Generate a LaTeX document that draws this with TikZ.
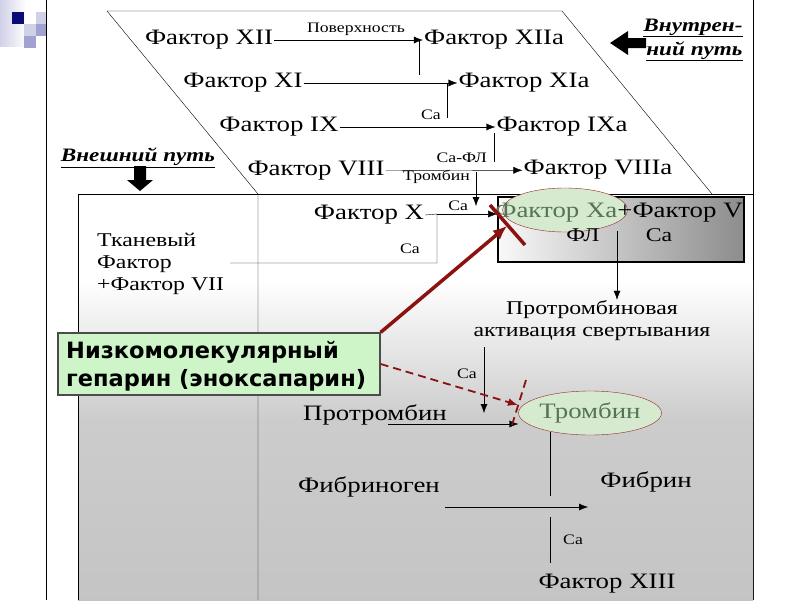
\documentclass[tikz,border=0pt]{standalone}
\usepackage{fontspec}
\setmainfont{Liberation Serif}[FakeStretch=1.22]
\newfontfamily\hepfont{DejaVu Sans}
\usetikzlibrary{positioning,shapes.geometric,arrows.meta}
\definecolor{darkred}{RGB}{140,18,18}
\definecolor{ellfill}{RGB}{214,234,208}
\definecolor{ellline}{RGB}{150,40,40}
\definecolor{ellfont}{RGB}{85,115,85}
\definecolor{hepfill}{RGB}{206,245,200}
\definecolor{logodark}{RGB}{12,12,120}
\definecolor{logolight}{RGB}{208,208,232}
\definecolor{logomid}{RGB}{162,162,210}
\tikzset{factor node/.style={font=\fontsize{22}{24}\selectfont,inner sep=1pt},
	small node/.style={font=\fontsize{14.5}{16}\selectfont,inner sep=1pt},
	text node/.style={font=\fontsize{19.5}{22}\selectfont,inner sep=1pt},
	path node/.style={font=\fontsize{19}{24}\selectfont\bfseries\itshape,inner sep=1pt,align=right},
	oval node/.style={ellipse,draw=ellline,fill=ellfill,minimum width=125pt,minimum height=44pt,inner sep=0pt},
	red line/.style={darkred,line width=3.5pt},
	red dash/.style={darkred,line width=1.8pt,dash pattern=on 8pt off 5pt},
}

\begin{document}
\begin{tikzpicture}[x=1pt,y=-1pt,>={Latex[length=9pt,width=7pt]}]
	\useasboundingbox (0,0) rectangle (800,600);
	\fill[white] (0,0) rectangle (800,600);
	% logo
	\shade[left color=logolight,right color=white] (0,0) rectangle (26,46);
	\fill[logodark] (12,12) rectangle (24,24);
	\fill[logolight] (36,12) rectangle (46,24);
	\fill[logolight] (24,24) rectangle (36,36);
	\fill[logomid] (36,24) rectangle (46,36);
	\fill[logomid] (24,36) rectangle (36,48);
	\draw (46,0) -- (46,600);
	\draw (753,0) -- (753,600);
	% lower part
	\shade[top color=white,bottom color=gray!40] (78,280) rectangle (753,420);
	\shade[top color=gray!40,bottom color=gray!46] (78,420) rectangle (753,600);
	\draw (107,11) -- (562,11) -- (712,194);
	\draw (107,11) -- (258,194) -- (258,600);
	\draw (78,600) -- (78,194) -- (753,194);
	
	% intrinsic pathway
	\node[factor node] (f12) at (209,40) {Фактор XII};
	\node[factor node] (f12a) at (494,40) {Фактор XIIa};
	\node[factor node] (f11) at (243,83) {Фактор XI};
	\node[factor node] (f11a) at (524,83) {Фактор XIa};
	\node[factor node] (f9) at (279,127) {Фактор IX};
	\node[factor node] (f9a) at (562,127) {Фактор IXa};
	\node[factor node] (f8) at (316,171) {Фактор VIII};
	\node[factor node] (f8a) at (598,170) {Фактор VIIIa};
	\node[factor node] (f10) at (369,215) {Фактор X};
	\node[text node,align=left,anchor=north west] (tf) at (96,232) {Тканевый\\Фактор\\+Фактор VII};
	
	\node[path node] (ext) at (138,158) {\underline{Внешний путь}};
	\node[path node] (int) at (693,40) {\underline{Внутрен-}\\\underline{ний путь}};
	\fill (134,166) rectangle (146,180) -- (153,180) -- (140,191) -- (127,180) -- (134,180) -- cycle;
	\fill (646,38) rectangle (628,48) -- (628,55) -- (610,43) -- (628,31) -- (628,38) -- cycle;
	
	% Xa complex
	\node[draw,line width=1.6pt,minimum width=246pt,minimum height=65pt,inner sep=0pt,
		left color=gray!5,right color=gray!90] (xa) at (621,229.5) {};
	\node[oval node] (xaell) at (565,210) {};
	\node[factor node] (xatxt) at (619,213) {\textcolor{ellfont}{Фактор Xa}+Фактор V};
	\node[text node] (fl) at (583,235) {ФЛ};
	\node[text node] (xaca) at (659,235) {Ca};
	
	\node[text node,align=center] (pta) at (592,321) {Протромбиновая\\активация свертывания};
	\node[oval node] (thr) at (590,413) {\fontsize{22}{24}\selectfont\textcolor{ellfont}{Тромбин}};
	\node[factor node] (pt) at (375,415) {Протромбин};
	\node[factor node] (fbg) at (369,487) {Фибриноген};
	\node[factor node] (fbn) at (646,482) {Фибрин};
	\node[factor node] (f13) at (607,584) {Фактор XIII};
	
	\node[draw=black!70,line width=1.3pt,fill=hepfill,minimum width=322pt,minimum height=62pt,
		inner sep=0pt] (hep) at (219,364) {};
	\node[font=\hepfont\bfseries\fontsize{22.5}{28}\selectfont,align=left,anchor=west,inner sep=0pt]
		(heptxt) at (66,366) {Низкомолекулярный\\гепарин (эноксапарин)};
	
	% junctions
	\coordinate (j12) at (419,40);
	\coordinate (j12b) at (419,75);
	\coordinate (j11) at (447,83);
	\coordinate (j11b) at (447,118);
	\coordinate (j9) at (494,133);
	\coordinate (j9b) at (494,162);
	\coordinate (j8) at (476,172);
	\coordinate (j8b) at (476,206);
	\coordinate (jx) at (437,214);
	\coordinate (jtf) at (437,263);
	\coordinate (tfend) at (230,263);
	\coordinate (xadown) at (617,231);
	\coordinate (ptadown) at (484,347);
	\coordinate (ptadownb) at (484,413);
	\coordinate (ptstart) at (388,424);
	\coordinate (fa) at (445,507);
	\coordinate (fb) at (588,507);
	\coordinate (th1) at (550,432);
	\coordinate (th2) at (550,496);
	\coordinate (c1) at (550,517);
	\coordinate (c2) at (550,563);
	
	\path[draw]
	(f12) edge[->] node[small node,above=3pt,pos=0.55] {Поверхность} (f12a)
	(j12) edge (j12b)
	(f11) edge[->] (f11a)
	(j11) edge node[small node,left=5pt,pos=0.9] {Ca} (j11b)
	(f9) edge[->] (f9a)
	(j9) edge node[small node,left=6pt,pos=0.85] {Ca-ФЛ} (j9b)
	(f8) edge[->] (f8a)
	(j8) edge[->] node[small node,left=5pt,pos=0.15] {Тромбин} (j8b)
	(jx) edge[->] node[small node,above=2pt,pos=0.35] {Ca} (xa.west |- jx)
	(xadown) edge[->] (pta.north -| xadown)
	(ptadown) edge[->] node[small node,left=6pt,pos=0.4] {Ca} (ptadownb)
	(ptstart) edge[->] (ptstart -| thr.west)
	(th1) edge (th2)
	(fa) edge[->] (fb)
	(c1) edge node[small node,right=12pt] {Ca} (c2);
	\draw (f10.east) -- (jx) -- (jtf) -- (tfend);
	\node[small node] (tfca) at (410,249) {Ca};
	
	% heparin inhibition
	\draw[red line] (490,205) coordinate (s1) -- (525,245) coordinate (s2);
	\draw[red line,-{Latex[length=14pt,width=12pt]}] (hep.north east) -- (507,226) coordinate (xatip);
	\draw[red dash,-{Latex[length=10pt,width=8pt]}] (hep.east) -- (518,405) coordinate (thtip);
	\draw[red dash] (526,380) coordinate (s3) -- (512,425) coordinate (s4);
\end{tikzpicture}
\end{document}
